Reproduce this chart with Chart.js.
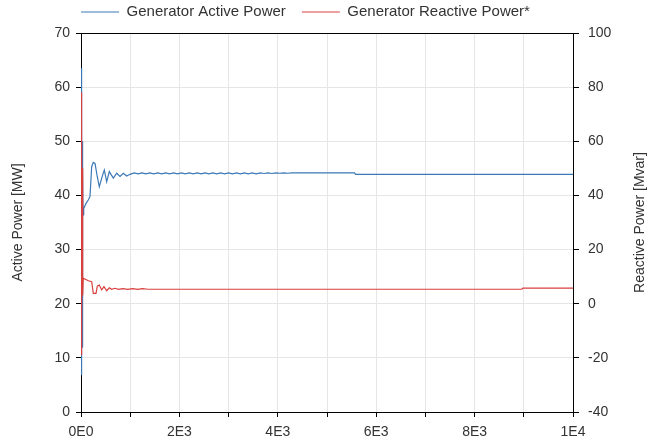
<!DOCTYPE html>
<html>
<head>
<meta charset="utf-8">
<script src="https://cdn.jsdelivr.net/npm/chart.js@4/dist/chart.umd.min.js"></script>
<style>
  html, body { margin: 0; padding: 0; background: #fff; }
  #c { display: block; }
</style>
</head>
<body>
<canvas id="c" width="661" height="445"></canvas>
<script>
// ---- data ----
const seriesNames = ['Generator Active Power', 'Generator Reactive Power*'];
const leftTitle = 'Active Power [MW]';
const rightTitle = 'Reactive Power [Mvar]';

// time [s]
const activeTime = [0, 4, 8, 12, 16, 20, 24, 28, 32, 36, 42, 55, 100, 150, 183, 217, 250, 285, 330, 372, 441, 474, 522, 575, 657, 725, 793, 860, 928, 996,
  1080, 1160, 1240, 1320, 1400, 1480, 1560, 1640, 1720, 1800, 1880, 1960, 2040, 2120, 2200, 2280, 2360, 2440, 2520, 2600,
  2680, 2760, 2840, 2920, 3000, 3080, 3160, 3240, 3320, 3400, 3480, 3560, 3640, 3720, 3800, 3880, 3960, 4040, 4120, 4200, 4280, 4360,
  5560, 5580, 10000];
// active power [MW]
const activeMW = [44.0, 63.5, 8.0, 60.0, 6.8, 55.0, 12.0, 50.0, 20.0, 45.0, 36.4, 37.6, 38.5, 39.2, 39.8, 45.3, 46.1, 45.9, 43.5, 41.6, 43.8, 44.7, 42.5, 44.4, 43.2, 44.1, 43.5, 44.1, 43.6, 43.9,
  44.15, 44.0, 44.15, 44.0, 44.15, 44.0, 44.15, 44.0, 44.15, 44.0, 44.15, 44.0, 44.15, 44.0, 44.15, 44.0, 44.15, 44.0, 44.15, 44.0,
  44.15, 44.0, 44.15, 44.0, 44.15, 44.0, 44.15, 44.0, 44.15, 44.0, 44.15, 44.0, 44.15, 44.05, 44.15, 44.05, 44.15, 44.1, 44.15, 44.1, 44.15, 44.15,
  44.15, 43.9, 43.9];

const reactiveTime = [0, 4, 8, 12, 16, 20, 24, 28, 32, 36, 40, 46, 150, 217, 250, 305, 332, 372, 420, 467, 522, 575, 623, 691, 760, 850, 950, 1050, 1150, 1250, 1360, 8960, 8980, 10000];
// reactive power [Mvar]
const reactiveMvar = [5.0, -19.0, 78.0, -15.0, 70.0, 0.0, 50.0, 5.0, 30.0, 13.0, 3.0, 9.4, 8.5, 8.1, 3.8, 3.8, 6.5, 6.9, 5.1, 6.3, 4.8, 5.9, 5.3, 5.7, 5.3, 5.6, 5.3, 5.6, 5.3, 5.6, 5.35, 5.35, 5.75, 5.75];

// tick labels
const xTickValues = [0, 2000, 4000, 6000, 8000, 10000];
const xTickLabels = ['0E0', '2E3', '4E3', '6E3', '8E3', '1E4'];

// ---- chart ----
const FONT = '"Liberation Sans", Arial, sans-serif';
const TXT = '#333333';
const BLUE = '#3c79b6';
const RED = '#d8403e';

const extras = {
  id: 'extras',
  beforeLayout(chart) {
    const lg = chart.legend;
    if (lg && !lg._fixedHeight) {
      const fit = lg.fit.bind(lg);
      lg.fit = function () { fit(); this.height = 30; };
      lg._fixedHeight = true;
    }
  },
  afterLayout(chart) {
    const lg = chart.legend;
    if (lg) {
      lg.left -= 25; lg.right -= 25;
      lg.top -= 11.5; lg.bottom -= 11.5;
    }
  },
  afterDraw(chart) {
    const { ctx, chartArea: a } = chart;
    ctx.save();
    ctx.strokeStyle = '#000';
    ctx.lineWidth = 1;
    ctx.beginPath();
    ctx.moveTo(a.left, Math.round(a.top) + 0.5);
    ctx.lineTo(a.right, Math.round(a.top) + 0.5);
    ctx.stroke();
    ctx.translate(640, (a.top + a.bottom) / 2);
    ctx.rotate(-Math.PI / 2);
    ctx.fillStyle = TXT;
    ctx.font = '14px ' + FONT;
    ctx.textAlign = 'center';
    ctx.textBaseline = 'middle';
    ctx.fillText(rightTitle, 0, 0);
    ctx.restore();
  }
};

new Chart(document.getElementById('c'), {
  type: 'line',
  data: {
    datasets: [
      {
        label: seriesNames[0],
        data: activeTime.map((t, i) => ({ x: t, y: activeMW[i] })),
        borderColor: BLUE,
        backgroundColor: BLUE,
        borderWidth: 1.2,
        pointRadius: 0,
        yAxisID: 'y',
        order: 1
      },
      {
        label: seriesNames[1],
        data: reactiveTime.map((t, i) => ({ x: t, y: reactiveMvar[i] })),
        borderColor: RED,
        backgroundColor: RED,
        borderWidth: 1.2,
        pointRadius: 0,
        yAxisID: 'y2',
        order: 0
      }
    ]
  },
  options: {
    responsive: false,
    animation: false,
    layout: { padding: 0 },
    plugins: {
      tooltip: { enabled: false },
      legend: {
        position: 'top',
        align: 'center',
        labels: {
          usePointStyle: true,
          pointStyle: 'line',
          pointStyleWidth: 38,
          color: TXT,
          font: { family: FONT, size: 15 },
          padding: 16,
          sort: (a, b) => a.datasetIndex - b.datasetIndex
        }
      }
    },
    scales: {
      x: {
        type: 'linear',
        min: 0,
        max: 10000,
        afterFit: s => { s.height = 33; },
        afterBuildTicks: s => {
          const t = [];
          for (let v = 0; v <= 10000; v += 1000) t.push({ value: v });
          s.ticks = t;
        },
        grid: { color: '#e6e6e6', tickColor: '#000', tickLength: 5 },
        border: { color: '#000' },
        ticks: {
          color: TXT,
          font: { family: FONT, size: 14 },
          padding: 7,
          maxRotation: 0,
          autoSkip: false,
          callback: v => { const k = xTickValues.indexOf(v); return k >= 0 ? xTickLabels[k] : ''; }
        }
      },
      xTop: {
        type: 'linear',
        position: 'top',
        display: true,
        min: 0,
        max: 10000,
        afterFit: s => { s.height = 3; },
        grid: { display: false },
        border: { display: false },
        ticks: { display: false }
      },
      y: {
        position: 'left',
        min: 0,
        max: 70,
        afterFit: s => { s.width = 81; },
        grid: { color: '#e6e6e6', tickColor: '#000', tickLength: 5 },
        border: { color: '#000' },
        title: { display: true, text: leftTitle, color: TXT, font: { family: FONT, size: 14 }, padding: { top: 10, bottom: 0 } },
        ticks: { stepSize: 10, color: TXT, font: { family: FONT, size: 14 }, padding: 6 }
      },
      y2: {
        position: 'right',
        min: -40,
        max: 100,
        afterFit: s => { s.width = 88; },
        grid: { drawOnChartArea: false, tickColor: '#000', tickLength: 6 },
        border: { color: '#000' },
        ticks: { stepSize: 20, color: TXT, font: { family: FONT, size: 14 }, padding: 9 }
      }
    }
  },
  plugins: [extras]
});
</script>
</body>
</html>
